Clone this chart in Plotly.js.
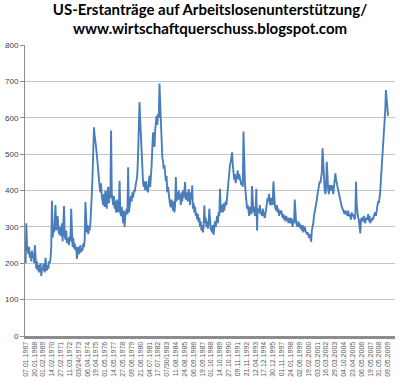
<!DOCTYPE html>
<html>
<head>
<meta charset="utf-8">
<script src="https://cdn.plot.ly/plotly-3.0.1.min.js"></script>
<style>html,body{margin:0;padding:0;background:#fff;}#chart{width:400px;height:385px;}</style>
</head>
<body>
<div id="chart"></div>
<script>
// Weekly initial claims (thousands) at roughly monthly resolution
const claims1967_1976 = [
  200, 310, 250, 240, 225, 245, 215, 230, 205, 235, 215, 225,
  200, 250, 195, 185, 205, 180, 195, 175, 190, 200, 165, 185,
  180, 200, 185, 175, 215, 190, 180, 195, 185, 205, 200, 215,
  245, 372, 270, 295, 285, 320, 360, 290, 305, 330, 295, 280,
  300, 275, 285, 310, 260, 300, 357, 275, 265, 290, 255, 270,
  260, 250, 275, 260, 350, 255, 245, 270, 240, 255, 235, 245,
  212, 230, 245, 225, 235, 250, 230, 240, 235, 255, 245, 265,
  368, 300, 285, 305, 280, 300, 290, 310, 340, 390, 440, 510,
  574, 550, 540, 520, 500, 470, 450, 430, 410, 395, 420, 385,
  370, 360, 390, 355, 400, 370, 350, 395, 410, 365, 390, 380
];
const claims1977_1986 = [
  565, 390, 370, 360, 385, 350, 370, 340, 375, 355, 340, 360,
  427, 340, 330, 355, 320, 310, 345, 300, 330, 345, 350, 335,
  464, 340, 355, 365, 385, 370, 395, 380, 400, 395, 415, 420,
  430, 450, 500, 600, 643, 590, 540, 500, 460, 420, 410, 425,
  400, 425, 410, 400, 395, 425, 441, 410, 435, 470, 520, 560,
  540, 520, 565, 590, 605, 580, 610, 600, 694, 640, 580, 530,
  490, 480, 460, 470, 430, 425, 440, 395, 410, 380, 375, 360,
  354, 375, 350, 345, 370, 340, 360, 437, 370, 395, 375, 400,
  375, 390, 360, 395, 370, 400, 380, 405, 423, 375, 395, 380,
  370, 404, 380, 360, 395, 375, 414, 350, 365, 340, 355, 330
];
const claims1987_1996 = [
  340, 320, 335, 313, 325, 300, 315, 290, 305, 285, 300, 359,
  310, 325, 300, 315, 295, 310, 350, 300, 295, 290, 285, 305,
  278, 300, 315, 300, 325, 330, 310, 340, 330, 405, 340, 360,
  350, 340, 365, 345, 360, 370, 360, 385, 400, 430, 450, 470,
  478, 490, 505, 470, 455, 430, 445, 420, 435, 440, 455, 430,
  445, 430, 420, 415, 425, 410, 562, 440, 420, 395, 370, 350,
  360, 340, 330, 355, 345, 335, 412, 345, 340, 355, 330, 340,
  405, 290, 350, 345, 340, 360, 335, 340, 330, 350, 335, 330,
  325, 340, 355, 365, 380, 370, 391, 365, 360, 380, 370, 360,
  425, 370, 360, 350, 345, 360, 340, 350, 330, 345, 335, 345
];
const claims1997_2009 = [
  330, 325, 335, 320, 330, 315, 330, 320, 325, 310, 325, 315,
  310, 325, 315, 300, 320, 310, 375, 330, 310, 305, 300, 315,
  300, 310, 295, 305, 290, 305, 285, 295, 300, 290, 285, 280,
  285, 275, 270, 280, 270, 259, 290, 300, 310, 330, 340, 360,
  360, 375, 390, 400, 410, 425, 420, 440, 450, 516, 470, 440,
  400, 390, 410, 479, 420, 400, 390, 415, 405, 400, 415, 400,
  390, 410, 430, 447, 430, 420, 410, 400, 385, 380, 370, 360,
  355, 350, 345, 340, 335, 345, 340, 335, 330, 345, 330, 335,
  330, 320, 340, 330, 335, 325, 320, 330, 424, 360, 330, 325,
  320, 300, 282, 320, 325, 315, 320, 330, 315, 310, 325, 320,
  320, 335, 315, 330, 310, 320, 315, 325, 320, 330, 335, 340,
  330, 350, 360, 370, 365, 380, 395, 430, 460, 480, 520, 560,
  590, 620, 676, 640, 615, 605
];
const tickLabels = [
  "07.01.1967","20.01.1968","01.02.1969","14.02.1970","27.02.1971","11.03.1972",
  "03/24/1973","06.04.1974","19.04.1975","01.05.1976","14.05.1977","27.05.1978",
  "09.06.1979","21.06.1980","04.07.1981","17.07.1982","07/30/1983","11.08.1984",
  "24.08.1985","06.09.1986","19.09.1987","01.10.1988","14.10.1989","27.10.1990",
  "09.11.1991","21.11.1992","12.04.1993","17.12.1994","30.12.1995","01.11.1997",
  "24.01.1998","02.06.1999","19.02.2000","03.03.2001","16.03.2002","29.03.2003",
  "04.10.2004","23.04.2005","06.05.2006","19.05.2007","31.05.2008","09.05.2009"
];

const values = [].concat(claims1967_1976, claims1977_1986, claims1987_1996, claims1997_2009);
const pad = n => (n < 10 ? "0" : "") + n;
const dates = values.map((v, i) => {
  const y = 1967 + Math.floor(i / 12), m = (i % 12) + 1;
  return y + "-" + pad(m) + "-15";
});
// tick labels sit every 54 weeks starting at the first week
const start = Date.UTC(1967, 0, 7);
const tickVals = tickLabels.map((t, k) => {
  const d = new Date(start + k * 378 * 86400000);
  return d.getUTCFullYear() + "-" + pad(d.getUTCMonth() + 1) + "-" + pad(d.getUTCDate());
});

const trace = {
  x: dates, y: values, type: "scatter", mode: "lines",
  line: {color: "#4a7ebb", width: 1.9}, hoverinfo: "skip"
};
const layout = {
  width: 400, height: 385,
  margin: {l: 25, r: 5, t: 45, b: 49},
  paper_bgcolor: "#fff", plot_bgcolor: "#fff",
  showlegend: false,
  title: {
    text: "US-Erstanträge auf Arbeitslosenunterstützung/<br>www.wirtschaftquerschuss.blogspot.com",
    font: {family: "Lato", size: 15, color: "#000", weight: "bold"},
    x: 0.5, xref: "paper", y: 0.962, yref: "container", yanchor: "top"
  },
  xaxis: {
    type: "date", range: ["1966-12-20", "2010-04-08"],
    tickmode: "array", tickvals: tickVals, ticktext: tickLabels,
    tickangle: -90, tickfont: {family: "Liberation Sans", size: 7, color: "#595959"},
    showgrid: false, zeroline: false, showline: true, linecolor: "#8c8c8c", linewidth: 3,
    ticks: "", fixedrange: true
  },
  yaxis: {
    range: [0, 800], dtick: 100, tick0: 0,
    showgrid: true, gridcolor: "#c4c4c4", gridwidth: 1,
    zeroline: false, showline: true, linecolor: "#8c8c8c", linewidth: 1,
    ticks: "outside", ticklen: 4, tickcolor: "#8c8c8c",
    tickfont: {family: "Liberation Sans", size: 8, color: "#404040"}, fixedrange: true
  }
};
Plotly.newPlot("chart", [trace], layout, {displayModeBar: false, staticPlot: true});
</script>
</body>
</html>
